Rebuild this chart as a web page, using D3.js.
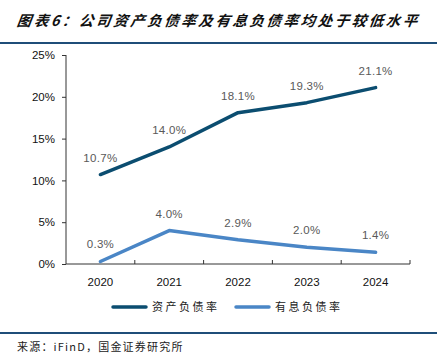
<!DOCTYPE html>
<html>
<head>
<meta charset="utf-8">
<script src="https://cdn.jsdelivr.net/npm/d3@7"></script>
<style>
body { margin: 0; background: #fff; }
svg { display: block; }
text { font-family: "Liberation Sans", Arial, sans-serif; }
.cjk { font-family: "Noto Sans CJK SC", sans-serif; }
</style>
</head>
<body>
<svg width="448" height="360"></svg>
<script>
var years = ['2020', '2021', '2022', '2023', '2024'];
var assetDebt = [10.7, 14.0, 18.1, 19.3, 21.1];
var interestDebt = [0.3, 4.0, 2.9, 2.0, 1.4];
var yTicks = [0, 5, 10, 15, 20, 25];
var seriesNames = ['资产负债率', '有息负债率'];
var colors = ['#0b4d70', '#4a86c6'];

var svg = d3.select('svg');

// title + rules
svg.append('text')
  .attr('class', 'cjk')
  .attr('x', 17).attr('y', 26)
  .attr('font-size', 14.5)
  .attr('font-weight', 'bold')
  .attr('font-style', 'italic')
  .attr('letter-spacing', 2.55)
  .attr('fill', '#111')
  .attr('transform', 'skewX(-8) translate(3,0)')
  .text('图表6：公司资产负债率及有息负债率均处于较低水平');
svg.append('rect').attr('x', 0).attr('y', 42).attr('width', 437).attr('height', 2).attr('fill', '#1f4e79');
svg.append('rect').attr('x', 0).attr('y', 332).attr('width', 437).attr('height', 2).attr('fill', '#1f4e79');

svg.append('text')
  .attr('class', 'cjk')
  .attr('x', 17).attr('y', 351)
  .attr('font-size', 11)
  .attr('letter-spacing', 1.2)
  .attr('fill', '#222')
  .text('来源：iFinD，国金证券研究所');

var x = d3.scaleBand().domain(years).range([66, 410]);
var y = d3.scaleLinear().domain([0, 25]).range([264, 55]);

// y axis
var yAxis = svg.append('g')
  .attr('transform', 'translate(66,0)')
  .call(d3.axisLeft(y).tickValues(yTicks).tickSize(4).tickFormat(function(d) { return d + '%'; }));
yAxis.selectAll('text').attr('font-size', 11.5).attr('fill', '#111').attr('font-family', '"Liberation Sans", Arial, sans-serif').attr('dx', '-4');
yAxis.selectAll('line, path').attr('stroke', '#333');
yAxis.select('.domain').attr('d', 'M0,55V264');

// x axis with inner ticks at band boundaries
var xg = svg.append('g').attr('transform', 'translate(0,264)');
xg.append('line').attr('x1', 66).attr('x2', 410).attr('stroke', '#333');
xg.selectAll('.tk')
  .data(years.slice(1).concat(['end']))
  .enter().append('line')
  .attr('x1', function(d, i) { return 66 + x.step() * (i + 1); })
  .attr('x2', function(d, i) { return 66 + x.step() * (i + 1); })
  .attr('y1', 0).attr('y2', -4)
  .attr('stroke', '#333');
xg.selectAll('.lbl')
  .data(years)
  .enter().append('text')
  .attr('x', function(d) { return x(d) + x.bandwidth() / 2; })
  .attr('y', 22)
  .attr('text-anchor', 'middle')
  .attr('font-size', 11.5)
  .attr('fill', '#111')
  .text(function(d) { return d; });

var line = d3.line()
  .x(function(d, i) { return x(years[i]) + x.bandwidth() / 2; })
  .y(function(d) { return y(d); });

[assetDebt, interestDebt].forEach(function(vals, s) {
  svg.append('path')
    .datum(vals)
    .attr('d', line)
    .attr('fill', 'none')
    .attr('stroke', colors[s])
    .attr('stroke-width', 3.5)
    .attr('stroke-linecap', 'round')
    .attr('stroke-linejoin', 'round');
  svg.selectAll('.lab' + s)
    .data(vals)
    .enter().append('text')
    .attr('x', function(d, i) { return x(years[i]) + x.bandwidth() / 2; })
    .attr('y', function(d) { return y(d) - 13; })
    .attr('text-anchor', 'middle')
    .attr('font-size', 11.5)
    .attr('letter-spacing', 0.3)
    .attr('fill', '#595959')
    .text(function(d) { return d.toFixed(1) + '%'; });
});

// legend
var legendX = [113, 236];
seriesNames.forEach(function(name, s) {
  svg.append('line')
    .attr('x1', legendX[s]).attr('x2', legendX[s] + 33)
    .attr('y1', 307).attr('y2', 307)
    .attr('stroke', colors[s])
    .attr('stroke-width', 3.5)
    .attr('stroke-linecap', 'round');
  svg.append('text')
    .attr('class', 'cjk')
    .attr('x', legendX[s] + 39).attr('y', 311)
    .attr('font-size', 11)
    .attr('letter-spacing', 2.5)
    .attr('fill', '#222')
    .text(name);
});
</script>
</body>
</html>
